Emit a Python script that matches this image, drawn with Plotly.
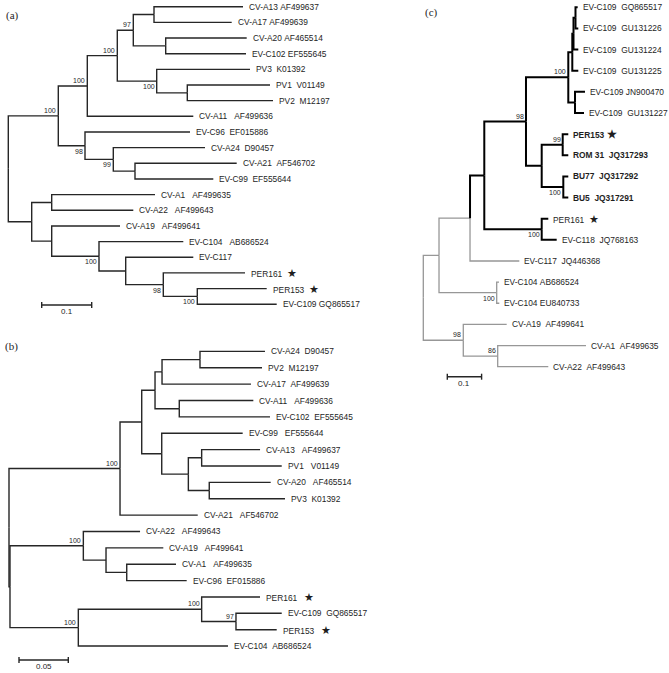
import plotly.graph_objects as go

W, H = 669, 673

# ---------------- Tree (a) : preorder nodes ----------------
A_PARENT = [-1, 0, 1, 2, 3, 4, 5, 5, 4, 8, 8, 3, 11, 11, 13, 13, 2, 1, 17, 17,
            19, 19, 21, 21, 0, 24, 25, 25, 24, 28, 28, 30, 30, 32, 32, 34, 34, 36, 36]
A_DIST = [0, 0.100, 0.158, 0.218, 0.250, 0.2914, 0.4694, 0.4468, 0.3148, 0.4768,
          0.4754, 0.2968, 0.4834, 0.358, 0.5234, 0.5294, 0.370, 0.1534, 0.3634, 0.210,
          0.3934, 0.2534, 0.4568, 0.410, 0.0468, 0.0868, 0.2934, 0.250, 0.0868, 0.2234,
          0.1814, 0.350, 0.2348, 0.370, 0.310, 0.4734, 0.378, 0.5168, 0.5368]
A_TIPS = ["CV-A13 AF499637", "CV-A17 AF499639", "CV-A20 AF465514", "EV-C102 EF555645",
          "PV3  K01392", "PV1  V01149", "PV2  M12197", "CV-A11   AF499636",
          "EV-C96  EF015886", "CV-A24  D90457", "CV-A21  AF546702", "EV-C99  EF555644",
          "CV-A1   AF499635", "CV-A22   AF499643", "CV-A19   AF499641",
          "EV-C104   AB686524", "EV-C117", "PER161  ★", "PER153  ★", "EV-C109 GQ865517"]
A_SUPPORT = {1: "100", 2: "100", 3: "100", 4: "97", 11: "100", 17: "98", 19: "99",
             30: "100", 34: "98", 36: "100"}
A_SCALE = 0.1

# ---------------- Tree (b) ----------------
B_PARENT = [-1, 0, 1, 2, 3, 4, 5, 5, 4, 3, 9, 9, 2, 12, 12, 14, 15, 15, 14, 18,
            18, 1, 0, 22, 23, 23, 25, 25, 27, 27, 22, 30, 31, 31, 33, 33, 30]
B_DIST = [0, 0.1126, 0.1346, 0.1481, 0.1552, 0.1937, 0.2596, 0.2566, 0.2454, 0.1727,
          0.2478, 0.2647, 0.1549, 0.2370, 0.1819, 0.1954, 0.2546, 0.2766, 0.2031, 0.2654,
          0.2799, 0.1914, 0.001, 0.0754, 0.1329, 0.0984, 0.1565, 0.1194, 0.1694, 0.1802,
          0.0703, 0.1954, 0.2546, 0.2302, 0.2766, 0.2715, 0.2221]
B_TIPS = ["CV-A24  D90457", "PV2  M12197", "CV-A17  AF499639", "CV-A11   AF499636",
          "EV-C102  EF555645", "EV-C99   EF555644", "CV-A13   AF499637", "PV1   V01149",
          "CV-A20   AF465514", "PV3  K01392", "CV-A21   AF546702", "CV-A22   AF499643",
          "CV-A19   AF499641", "CV-A1   AF499635", "EV-C96  EF015886", "PER161   ★",
          "EV-C109  GQ865517", "PER153   ★", "EV-C104  AB686524"]
B_SUPPORT = {1: "100", 23: "100", 30: "100", 31: "100", 33: "97"}
B_SCALE = 0.05

# ---------------- Tree (c) ----------------
C_PARENT = [-1, 0, 1, 2, 3, 4, 5, 6, 7, 8, 8, 7, 6, 5, 13, 13, 4, 16, 17, 17,
            16, 20, 20, 3, 23, 23, 2, 1, 27, 27, 0, 30, 30, 32, 32]
C_DIST = [0, 0.0458, 0.1362, 0.1778, 0.2994, 0.4227, 0.4344, 0.4379, 0.4437, 0.4501,
          0.4519, 0.4519, 0.4519, 0.4423, 0.4714, 0.4685, 0.3452, 0.4064, 0.4227, 0.4227,
          0.4082, 0.4227, 0.4227, 0.3452, 0.3644, 0.3889, 0.2799, 0.2140, 0.2207, 0.2216,
          0.1166, 0.2431, 0.2169, 0.4743, 0.3644]
C_TIPS = ["EV-C109  GQ865517", "EV-C109  GU131226", "EV-C109  GU131224",
          "EV-C109  GU131225", "EV-C109 JN900470", "EV-C109  GU131227", "PER153 ★",
          "ROM 31  JQ317293", "BU77  JQ317292", "BU5  JQ317291", "PER161  ★",
          "EV-C118  JQ768163", "EV-C117  JQ446368", "EV-C104 AB686524",
          "EV-C104 EU840733", "CV-A19  AF499641", "CV-A1  AF499635", "CV-A22  AF499643"]
C_BOLD_TIPS = [6, 7, 8, 9]
C_SUPPORT = {4: "98", 5: "100", 17: "99", 20: "100", 23: "100", 27: "100", 30: "98",
             32: "86"}
C_HIGHLIGHT = 3  # clade drawn in black
C_SCALE = 0.1

# ---------------- layout / style settings ----------------
PANELS = [
    dict(parent=A_PARENT, dist=A_DIST, tips=A_TIPS, support=A_SUPPORT,
         below={11, 17, 19, 30, 34, 36}, scale=A_SCALE, scale_label="0.1",
         root_px=8.3, ppu=500.0, top_px=6.7, step_px=15.66,
         bar_px=(41.7, 305.0), title="(a)", title_px=(12.7, 15.0),
         bold=[], hl=None, gap=5),
    dict(parent=B_PARENT, dist=B_DIST, tips=B_TIPS, support=B_SUPPORT,
         below=set(), scale=B_SCALE, scale_label="0.05",
         root_px=9.0, ppu=986.0, top_px=351.4, step_px=16.37,
         bar_px=(19.0, 660.0), title="(b)", title_px=(11.5, 347.0),
         bold=[], hl=None, gap=5),
    dict(parent=C_PARENT, dist=C_DIST, tips=C_TIPS, support=C_SUPPORT,
         below={20, 23, 27}, scale=C_SCALE, scale_label="0.1",
         root_px=423.3, ppu=343.0, top_px=7.3, step_px=21.14,
         bar_px=(447.3, 376.7), title="(c)", title_px=(431.5, 12.7),
         bold=C_BOLD_TIPS, hl=C_HIGHLIGHT, gap=4),
]

LINE_COL = "#262626"
GRAY_COL = "#979797"
TEXT_COL = "#1e1e1e"
SANS = "Liberation Sans, Arial, sans-serif"
SERIF = "Liberation Serif, Times New Roman, serif"
STAR = "<span style='font-size:11px'>★</span>"


def tree_layout(parent):
    n = len(parent)
    kids = [[] for _ in range(n)]
    for i, p in enumerate(parent):
        if p >= 0:
            kids[p].append(i)
    y = [0.0] * n
    leaves = []
    for i in range(n):
        if not kids[i]:
            y[i] = float(len(leaves))
            leaves.append(i)
    for i in range(n - 1, -1, -1):
        if kids[i]:
            y[i] = (y[kids[i][0]] + y[kids[i][-1]]) / 2.0
    return kids, y, leaves


def descendants(kids, root):
    out = set()
    stack = [root]
    while stack:
        k = stack.pop()
        out.add(k)
        stack.extend(kids[k])
    return out


fig = go.Figure()
annotations = []

for k, P in enumerate(PANELS):
    sfx = "" if k == 0 else str(k + 1)
    xr, yr = "x" + sfx, "y" + sfx
    parent, dist = P["parent"], P["dist"]
    kids, y, leaves = tree_layout(parent)
    hl_set = descendants(kids, P["hl"]) if P["hl"] is not None else set()

    groups = {"main": ([], []), "hl": ([], [])}
    for i, p in enumerate(parent):
        if p < 0:
            continue
        g = "hl" if i in hl_set else "main"
        xs, ys = groups[g]
        xs += [dist[p], dist[p], dist[i], None]
        ys += [y[p], y[i], y[i], None]

    if P["hl"] is None:
        fig.add_trace(go.Scatter(x=groups["main"][0], y=groups["main"][1], mode="lines",
                                 line=dict(color=LINE_COL, width=1.4),
                                 hoverinfo="skip", showlegend=False,
                                 xaxis=xr, yaxis=yr))
    else:
        fig.add_trace(go.Scatter(x=groups["main"][0], y=groups["main"][1], mode="lines",
                                 line=dict(color=GRAY_COL, width=1.3),
                                 hoverinfo="skip", showlegend=False,
                                 xaxis=xr, yaxis=yr))
        fig.add_trace(go.Scatter(x=groups["hl"][0], y=groups["hl"][1], mode="lines",
                                 line=dict(color="#000000", width=2.0),
                                 hoverinfo="skip", showlegend=False,
                                 xaxis=xr, yaxis=yr))

    # tip labels
    for j, leaf in enumerate(leaves):
        txt = P["tips"][j].replace(" ", "\u00a0").replace("★", STAR)
        if j in P["bold"]:
            txt = "<b>" + txt + "</b>"
        annotations.append(dict(x=dist[leaf], y=y[leaf], xref=xr, yref=yr, text=txt,
                                showarrow=False, xanchor="left", yanchor="middle",
                                xshift=P["gap"], borderpad=0,
                                font=dict(family=SANS, size=8.4, color=TEXT_COL)))
    # support values
    for node, val in P["support"].items():
        below = node in P["below"]
        annotations.append(dict(x=dist[node], y=y[node], xref=xr, yref=yr, text=val,
                                showarrow=False, xanchor="right",
                                yanchor="top" if below else "bottom",
                                xshift=-1, yshift=-1 if below else 1, borderpad=0,
                                font=dict(family=SANS, size=7, color=TEXT_COL)))

    # axes ranges from pixel geometry
    ppu, step = P["ppu"], P["step_px"]
    x_range = [(0 - P["root_px"]) / ppu, (W - P["root_px"]) / ppu]
    y_range = [(H - P["top_px"]) / step, (0 - P["top_px"]) / step]
    fig.update_layout(**{
        "xaxis" + sfx: dict(domain=[0, 1], range=x_range, visible=False,
                            anchor=yr, fixedrange=True),
        "yaxis" + sfx: dict(domain=[0, 1], range=y_range, visible=False,
                            anchor=xr, fixedrange=True),
    })

    # scale bar
    bx = (P["bar_px"][0] - P["root_px"]) / ppu
    by = (P["bar_px"][1] - P["top_px"]) / step
    tick = 3.0 / step
    L = P["scale"]
    fig.add_trace(go.Scatter(
        x=[bx, bx + L, None, bx, bx, None, bx + L, bx + L],
        y=[by, by, None, by - tick, by + tick, None, by - tick, by + tick],
        mode="lines", line=dict(color=LINE_COL, width=1.4),
        hoverinfo="skip", showlegend=False, xaxis=xr, yaxis=yr))
    annotations.append(dict(x=bx + L / 2, y=by, xref=xr, yref=yr, text=P["scale_label"],
                            showarrow=False, xanchor="center", yanchor="top", yshift=-1,
                            borderpad=0,
                            font=dict(family=SANS, size=8, color=TEXT_COL)))

    # panel title
    annotations.append(dict(x=P["title_px"][0] / W, y=1 - P["title_px"][1] / H,
                            xref="paper", yref="paper", text=P["title"],
                            showarrow=False, xanchor="center", yanchor="middle",
                            borderpad=0,
                            font=dict(family=SERIF, size=11, color=TEXT_COL)))

fig.update_layout(width=W, height=H, autosize=False,
                  margin=dict(l=0, r=0, t=0, b=0),
                  paper_bgcolor="white", plot_bgcolor="rgba(0,0,0,0)",
                  annotations=annotations, showlegend=False, hovermode=False)

fig.write_html("out.html",
               config={"displayModeBar": False, "staticPlot": True},
               post_script="document.body.style.margin='0px';"
                           "document.body.style.overflow='hidden';")
